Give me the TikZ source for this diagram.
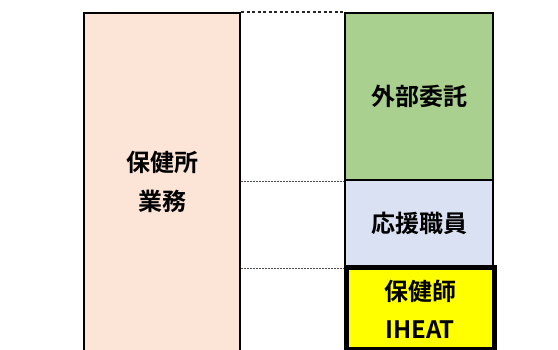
\documentclass[tikz,border=0pt]{standalone}
\usepackage{fontspec}
\newfontfamily\cjk{Noto Sans CJK JP}[BoldFont={* Bold}]
\definecolor{peach}{HTML}{FCE4D6}
\definecolor{leaf}{HTML}{A9D08E}
\definecolor{pale}{HTML}{D9E1F2}
\definecolor{yel}{HTML}{FFFF00}
\tikzset{
  box/.style={draw=black, line width=2pt, inner sep=0pt, font=\cjk\bfseries\fontsize{24}{38.5}\selectfont, align=center},
  topdot/.style={draw=black!85, line width=1.2pt, dash pattern=on 3pt off 2.5pt},
  thindash/.style={draw=black!70, line width=0.8pt, dash pattern=on 2pt off 1pt}
}
\begin{document}
\begin{tikzpicture}[x=1pt,y=-1pt]
\useasboundingbox (0,0) rectangle (558,350);
\clip (0,0) rectangle (558,350);
\fill[white] (0,0) rectangle (558,350);
\node[box, fill=peach, minimum width=156pt, minimum height=338pt] (L) at (162,182) {保健所\\業務};
\node[box, fill=leaf, minimum width=148pt, minimum height=167pt] (G) at (419,96.5) {外部委託};
\node[box, fill=pale, minimum width=148pt, minimum height=87pt] (B) at (419,223.5) {応援職員};
\node[box, fill=yel, line width=5pt, minimum width=148pt, minimum height=82pt, font=\cjk\bfseries\fontsize{24}{38}\selectfont] (Y) at (420,309) {保健師\\IHEAT};
\draw[topdot] (L.north east) -- (G.north west);
\draw[thindash] (G.south west -| L.east) -- (G.south west);
\draw[thindash] (B.south west -| L.east) -- (B.south west);
\end{tikzpicture}
\end{document}
